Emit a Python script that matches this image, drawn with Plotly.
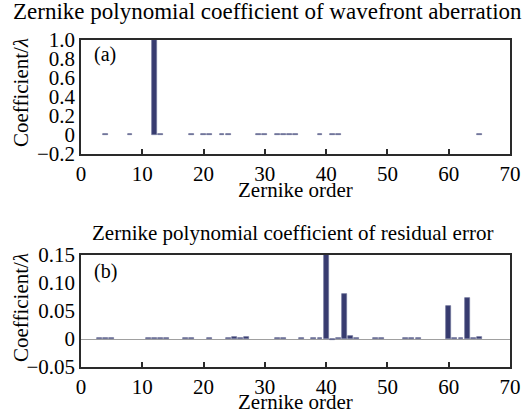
import plotly.graph_objects as go
from plotly.subplots import make_subplots

# (a) wavefront aberration coefficients
orders_a = [4, 8, 12, 13, 18, 20, 21, 23, 24, 29, 30, 32, 33, 34, 35, 39, 41, 42, 65]
coef_a = [0.01, 0.01, 1.0, 0.01, 0.01, 0.01, 0.01, 0.01, 0.01, 0.01, 0.01,
          0.01, 0.01, 0.01, 0.01, 0.01, 0.01, 0.01, 0.01]

# (b) residual error coefficients
orders_b = [3, 4, 5, 11, 12, 13, 14, 17, 18, 21, 24, 25, 26, 27, 32, 33, 36, 38, 39,
            40, 41, 42, 43, 44, 45, 48, 49, 53, 54, 55, 60, 61, 62, 63, 64, 65]
coef_b = [0.0015, 0.002, 0.002, 0.0015, 0.002, 0.0025, 0.002, 0.0015, 0.0015, 0.0015,
          0.002, 0.003, 0.002, 0.003, 0.0015, 0.0015, 0.0015, 0.0015, 0.0015,
          0.152, -0.0012, 0.0015, 0.080, 0.006, 0.0015, 0.0015, 0.0015, 0.0015, 0.0015,
          0.0015, 0.059, 0.0015, 0.0015, 0.073, 0.002, 0.003]

xticks = [0, 10, 20, 30, 40, 50, 60, 70]
yticks_a = [-0.2, 0, 0.2, 0.4, 0.6, 0.8, 1.0]
ytext_a = ["\u22120.2", "0", "0.2", "0.4", "0.6", "0.8", "1.0"]
yticks_b = [-0.05, 0, 0.05, 0.10, 0.15]
ytext_b = ["\u22120.05", "0", "0.05", "0.10", "0.15"]

title_a = "Zernike polynomial coefficient of wavefront aberration"
title_b = "Zernike polynomial coefficient of residual error"
xlabel = "Zernike order"
ylabel = "Coefficient/<i>λ</i>"

FONT = "Liberation Serif"
BAR = "#373b6f"
EDGE = "#6c7096"
FRAME = "#2a2a2a"
FS = 21

fig = make_subplots(rows=2, cols=1)
fig.add_trace(go.Bar(x=orders_a, y=coef_a, width=0.8, marker=dict(color=BAR, line=dict(color=EDGE, width=0.7)),
                     showlegend=False, hoverinfo="skip"), row=1, col=1)
fig.add_trace(go.Bar(x=orders_b, y=coef_b, width=0.8, marker=dict(color=BAR, line=dict(color=EDGE, width=0.7)),
                     showlegend=False, hoverinfo="skip"), row=2, col=1)

axis_common = dict(showline=True, linecolor=FRAME, linewidth=1.5, mirror=True, showgrid=False,
                   automargin=False, tickfont=dict(family=FONT, size=FS, color="black"))

def txt(text, xref, yref, x, y, xshift=0, yshift=0, size=FS, angle=0, xanchor="center", yanchor="middle"):
    return dict(text=text, xref=xref, yref=yref, x=x, y=y, xshift=xshift, yshift=yshift,
                xanchor=xanchor, yanchor=yanchor, textangle=angle, showarrow=False,
                font=dict(family=FONT, size=size, color="black"))

fig.update_layout(
    width=532, height=413,
    margin=dict(l=81, r=22, t=40, b=46),
    paper_bgcolor="white", plot_bgcolor="white",
    font=dict(family=FONT, size=FS, color="black"),
    bargap=0,
    xaxis=dict(domain=[0, 1], range=[0, 70], tickvals=xticks, ticks="inside", ticklen=5,
               tickcolor=FRAME, tickwidth=1.5, zeroline=False, **axis_common),
    yaxis=dict(domain=[0.6514, 1], range=[-0.2, 1.0], tickvals=yticks_a, ticktext=ytext_a,
               ticks="", zeroline=False, **axis_common),
    xaxis2=dict(domain=[0, 1], range=[0, 70], tickvals=xticks, ticks="inside", ticklen=5,
                tickcolor=FRAME, tickwidth=1.5, zeroline=False, **axis_common),
    yaxis2=dict(domain=[0, 0.3425], range=[-0.05, 0.15], tickvals=yticks_b, ticktext=ytext_b,
                ticks="", zeroline=True, zerolinecolor="#a0a0a0", zerolinewidth=1.2, **axis_common),
    annotations=[
        txt(title_a, "paper", "y domain", 0.5, 1, xshift=-28, yshift=29, size=23),
        txt(title_b, "paper", "y2 domain", 0.5, 1, xshift=-3, yshift=22, size=21),
        txt(xlabel, "x domain", "y domain", 0.5, 0, yshift=-36),
        txt(xlabel, "x2 domain", "y2 domain", 0.5, 0, yshift=-35),
        txt(ylabel, "x domain", "y domain", 0, 0.5, xshift=-60, yshift=4, angle=-90),
        txt(ylabel, "x2 domain", "y2 domain", 0, 0.5, xshift=-60, yshift=3, angle=-90),
        txt("(a)", "x domain", "y domain", 0.026, 1, yshift=-14, size=20, xanchor="left"),
        txt("(b)", "x2 domain", "y2 domain", 0.026, 1, yshift=-16, size=20, xanchor="left"),
    ],
)

fig.write_html("out.html", config={"displayModeBar": False},
               post_script="document.body.style.margin='0';document.body.style.padding='0';")
